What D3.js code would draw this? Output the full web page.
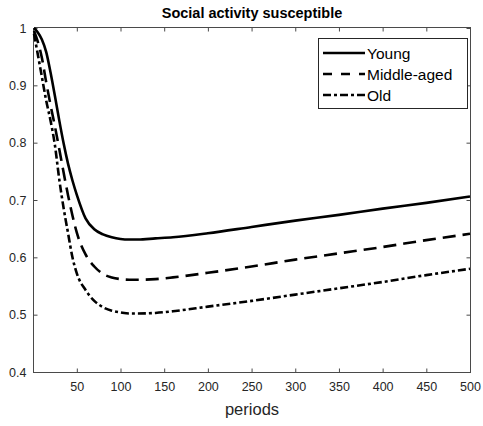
<!DOCTYPE html>
<html>
<head>
<meta charset="utf-8">
<script src="https://cdn.jsdelivr.net/npm/d3@7/dist/d3.min.js"></script>
<style>
  html, body { margin: 0; padding: 0; background: #fff; }
  svg { display: block; font-family: "Liberation Sans", Arial, Helvetica, sans-serif; }
</style>
</head>
<body>
<svg id="chart" width="483" height="426"></svg>
<script>
const periods = [1, 5, 10, 15, 20, 25, 30, 35, 40, 45, 50, 60, 70, 80, 90, 100, 110, 120, 140, 160, 200, 250, 300, 350, 400, 450, 500];
const young = [1.000, 0.993, 0.980, 0.958, 0.922, 0.881, 0.838, 0.798, 0.763, 0.734, 0.709, 0.668, 0.649, 0.640, 0.635, 0.632, 0.631, 0.631, 0.633, 0.635, 0.642, 0.653, 0.664, 0.674, 0.685, 0.695, 0.706];
const middleAged = [0.995, 0.978, 0.948, 0.905, 0.865, 0.828, 0.788, 0.747, 0.708, 0.673, 0.643, 0.605, 0.584, 0.571, 0.565, 0.562, 0.561, 0.561, 0.562, 0.565, 0.573, 0.584, 0.596, 0.607, 0.618, 0.630, 0.641];
const old = [0.990, 0.957, 0.915, 0.873, 0.838, 0.795, 0.735, 0.685, 0.642, 0.600, 0.572, 0.543, 0.524, 0.513, 0.507, 0.504, 0.502, 0.502, 0.503, 0.506, 0.514, 0.524, 0.535, 0.546, 0.557, 0.569, 0.580];
const seriesNames = ["Young", "Middle-aged", "Old"];
const xTicks = [50, 100, 150, 200, 250, 300, 350, 400, 450, 500];
const yTicks = [0.4, 0.5, 0.6, 0.7, 0.8, 0.9, 1.0];
const titleText = "Social activity susceptible";
const xLabelText = "periods";

const svg = d3.select("#chart");
const L = 34, R = 470, T = 28, B = 372;
const x = d3.scaleLinear().domain([1, 500]).range([L, R]);
const y = d3.scaleLinear().domain([0.4, 1.0]).range([B, T]);
const axisColor = "#4a4a4a";
const textColor = "#262626";
const dashes = [null, "13,7", "8,3,3,3"];
const legendDashes = [null, "9,9", "8,3,3,3"];
const seriesData = [young, middleAged, old];

// axes box lines
const gAx = svg.append("g").attr("stroke", axisColor).attr("stroke-width", 1).attr("fill", "none");
gAx.append("line").attr("x1", L).attr("x2", R).attr("y1", B + 0.5).attr("y2", B + 0.5);
gAx.append("line").attr("x1", L).attr("x2", R).attr("y1", T - 0.5).attr("y2", T - 0.5);
gAx.append("line").attr("x1", L - 0.5).attr("x2", L - 0.5).attr("y1", T).attr("y2", B + 1);
gAx.append("line").attr("x1", R + 0.5).attr("x2", R + 0.5).attr("y1", T - 1).attr("y2", B + 1);

// bottom axis via d3.axisBottom
const xAxis = d3.axisBottom(x).tickValues(xTicks).tickSizeInner(-4).tickSizeOuter(0).tickPadding(10).tickFormat(d3.format("d"));
const gx = svg.append("g").attr("transform", `translate(0,${B + 0.5})`).call(xAxis);
gx.select(".domain").remove();
gx.selectAll("line").attr("stroke", axisColor);
gx.selectAll("text").attr("fill", textColor).attr("font-size", 12.5).attr("font-family", "Liberation Sans, Arial, sans-serif");

// top ticks
const xTop = d3.axisTop(x).tickValues(xTicks).tickSizeInner(-4).tickSizeOuter(0).tickFormat("");
const gxt = svg.append("g").attr("transform", `translate(0,${T - 0.5})`).call(xTop);
gxt.select(".domain").remove();
gxt.selectAll("line").attr("stroke", axisColor);

// left axis
const yAxis = d3.axisLeft(y).tickValues(yTicks).tickSizeInner(-4).tickSizeOuter(0).tickPadding(7).tickFormat(d => d === 1 ? "1" : d3.format(".1f")(d));
const gy = svg.append("g").attr("transform", `translate(${L - 0.5},0)`).call(yAxis);
gy.select(".domain").remove();
gy.selectAll("line").attr("stroke", axisColor);
gy.selectAll("text").attr("fill", textColor).attr("font-size", 12.5).attr("font-family", "Liberation Sans, Arial, sans-serif");

// right ticks
const yRight = d3.axisRight(y).tickValues(yTicks).tickSizeInner(-4).tickSizeOuter(0).tickFormat("");
const gyr = svg.append("g").attr("transform", `translate(${R + 0.5},0)`).call(yRight);
gyr.select(".domain").remove();
gyr.selectAll("line").attr("stroke", axisColor);

// curves
const line = d3.line().x((d, i) => x(periods[i])).y(d => y(d)).curve(d3.curveMonotoneX);
seriesData.forEach((s, k) => {
  svg.append("path").datum(s)
    .attr("d", line)
    .attr("fill", "none")
    .attr("stroke", "#000")
    .attr("stroke-width", 2.6)
    .attr("stroke-dasharray", dashes[k]);
});

// title
svg.append("text").attr("x", (L + R) / 2).attr("y", 18).attr("text-anchor", "middle")
  .attr("font-size", 14.5).attr("font-weight", "bold").attr("fill", "#000").text(titleText);

// x label
svg.append("text").attr("x", (L + R) / 2).attr("y", 415).attr("text-anchor", "middle")
  .attr("font-size", 16.5).attr("fill", textColor).text(xLabelText);

// legend
const lg = svg.append("g");
lg.append("rect").attr("x", 318.5).attr("y", 38.5).attr("width", 149).attr("height", 70)
  .attr("fill", "#fff").attr("stroke", textColor).attr("stroke-width", 1);
const ly = [53, 74, 95];
seriesNames.forEach((n, k) => {
  lg.append("line").attr("x1", 323).attr("x2", 365).attr("y1", ly[k]).attr("y2", ly[k])
    .attr("stroke", "#000").attr("stroke-width", 2.6).attr("stroke-dasharray", legendDashes[k]);
  lg.append("text").attr("x", 367).attr("y", ly[k] + 5.5).attr("font-size", 15.5).attr("fill", "#000").text(n);
});
</script>
</body>
</html>
